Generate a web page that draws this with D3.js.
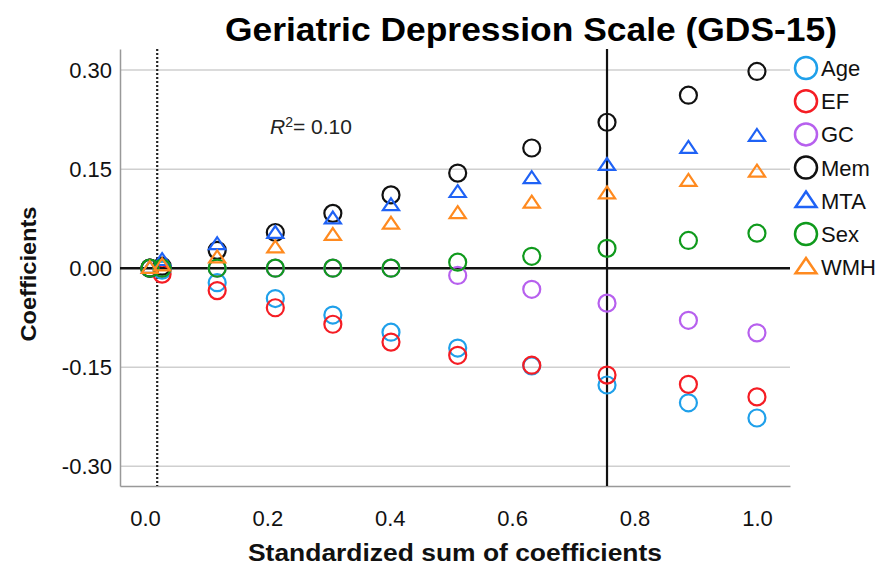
<!DOCTYPE html>
<html>
<head>
<meta charset="utf-8">
<script src="https://cdn.jsdelivr.net/npm/d3@7"></script>
<style>
    body { margin: 0; background: #fff; }
    text { font-family: "Liberation Sans", Arial, sans-serif; }
</style>
</head>
<body>
<svg id="chart"></svg>
<script>
// x position of each step (standardized sum of coefficients)
const steps = [0.008, 0.028, 0.118, 0.213, 0.307, 0.402, 0.511, 0.632, 0.755, 0.888, 1.0];

// coefficient paths per predictor
const age = [0, -0.003, -0.022, -0.046, -0.071, -0.097, -0.121, -0.148, -0.177, -0.204, -0.227];
const ef  = [0, -0.009, -0.034, -0.060, -0.085, -0.112, -0.132, -0.147, -0.162, -0.176, -0.195];
const gc  = [0, 0, 0, 0, 0, 0, -0.011, -0.032, -0.053, -0.079, -0.098];
const mem = [0, 0.003, 0.027, 0.054, 0.083, 0.111, 0.144, 0.182, 0.221, 0.262, 0.298];
const mta = [0, 0.012, 0.036, 0.053, 0.075, 0.095, 0.115, 0.136, 0.156, 0.182, 0.200];
const sex = [0, 0, 0, 0, 0, 0, 0.009, 0.018, 0.030, 0.042, 0.053];
const wmh = [0, 0.004, 0.016, 0.031, 0.050, 0.067, 0.083, 0.099, 0.113, 0.132, 0.146];

const seriesNames = ["Age", "EF", "GC", "Mem", "MTA", "Sex", "WMH"];
const seriesValues = [age, ef, gc, mem, mta, sex, wmh];
const seriesShapes = ["circle", "circle", "circle", "circle", "triangle", "circle", "triangle"];
const seriesColors = ["#1fa0ea", "#f51d24", "#b760ee", "#111111", "#1f62f5", "#0f9a1c", "#ff8a1f"];

const yTicks = [0.30, 0.15, 0.00, -0.15, -0.30];
const xTicks = [0.0, 0.2, 0.4, 0.6, 0.8, 1.0];
const selectedStep = 0.755; // chosen model (solid line)
const startStep = 0.02;     // dotted reference line
const rSquared = "0.10";

// canvas
const canvWidth = 888;
const canvHeight = 569;
const margin = { top: 49, right: 98, bottom: 83, left: 120 };
const width = canvWidth - margin.left - margin.right;
const height = canvHeight - margin.top - margin.bottom;

const svg = d3.select("#chart")
    .attr("width", canvWidth)
    .attr("height", canvHeight);

const g = svg.append("g")
    .attr("transform", "translate(" + margin.left + "," + margin.top + ")");

// scales
const x = d3.scaleLinear()
    .domain([-0.0408, 1.054])
    .range([0, width]);

const y = d3.scaleLinear()
    .domain([-0.330, 0.332])
    .range([height, 0]);

// plain hyphen minus like the original
const fmtY = d => d3.format(".2f")(d).replace("\u2212", "-");

// grid lines
g.append("g")
    .selectAll("line")
    .data(yTicks.filter(d => d !== 0))
    .enter().append("line")
    .attr("x1", 0)
    .attr("x2", width)
    .attr("y1", d => y(d))
    .attr("y2", d => y(d))
    .attr("stroke", "#cfcfcf")
    .attr("stroke-width", 1.5);

// y axis
const yAxis = g.append("g")
    .call(d3.axisLeft(y).tickValues(yTicks).tickFormat(fmtY).tickSize(0).tickPadding(8));
yAxis.select(".domain").attr("stroke", "#999").attr("stroke-width", 1.5);
yAxis.selectAll("text")
    .attr("font-size", 22)
    .attr("fill", "#111")
    .attr("font-family", "Liberation Sans, Arial, sans-serif");

// x axis
const xAxis = g.append("g")
    .attr("transform", "translate(0," + height + ")")
    .call(d3.axisBottom(x).tickValues(xTicks).tickFormat(d3.format(".1f")).tickSize(0).tickPadding(24));
xAxis.select(".domain").attr("stroke", "#999").attr("stroke-width", 1.5);
xAxis.selectAll("text")
    .attr("font-size", 22)
    .attr("fill", "#111")
    .attr("font-family", "Liberation Sans, Arial, sans-serif");

// zero line
g.append("line")
    .attr("x1", 0)
    .attr("x2", width)
    .attr("y1", y(0))
    .attr("y2", y(0))
    .attr("stroke", "#111")
    .attr("stroke-width", 2.5);

// dotted start line
g.append("line")
    .attr("x1", x(startStep))
    .attr("x2", x(startStep))
    .attr("y1", 0)
    .attr("y2", height)
    .attr("stroke", "#222")
    .attr("stroke-width", 2.2)
    .attr("stroke-dasharray", "2,2");

// selected model line
g.append("line")
    .attr("x1", x(selectedStep))
    .attr("x2", x(selectedStep))
    .attr("y1", 0)
    .attr("y2", height)
    .attr("stroke", "#111")
    .attr("stroke-width", 2.2);

// marker drawing helper
function drawMarker(sel, shape, size, color, sw) {
    if (shape === "circle") {
        sel.append("circle")
            .attr("r", size)
            .attr("fill", "none")
            .attr("stroke", color)
            .attr("stroke-width", sw);
    } else {
        const h = size * 1.4;
        const w = size * 0.95;
        sel.append("path")
            .attr("d", "M0," + (-h * 0.6) + "L" + w + "," + (h * 0.4) + "L" + (-w) + "," + (h * 0.4) + "Z")
            .attr("fill", "none")
            .attr("stroke", color)
            .attr("stroke-width", sw)
            .attr("stroke-linejoin", "miter");
    }
}

// points
seriesNames.forEach(function (name, i) {
    const pts = g.append("g").attr("class", "series-" + name);
    seriesValues[i].forEach(function (v, j) {
        const m = pts.append("g")
            .attr("transform", "translate(" + x(steps[j]) + "," + y(v) + ")");
        drawMarker(m, seriesShapes[i], 8.5, seriesColors[i], 2.2);
    });
});

// R squared label
const r2 = svg.append("text")
    .attr("x", 270)
    .attr("y", 134)
    .attr("font-size", 21)
    .attr("fill", "#222");
r2.append("tspan").attr("font-style", "italic").text("R");
r2.append("tspan").attr("font-size", 14).attr("dy", -7).text("2");
r2.append("tspan").attr("dy", 7).text("= " + rSquared);

// legend
const legendTop = 68;
const legendStep = 33.2;
seriesNames.forEach(function (name, i) {
    const lg = svg.append("g")
        .attr("transform", "translate(806," + (legendTop + i * legendStep) + ")");
    drawMarker(lg, seriesShapes[i], 11, seriesColors[i], 2.5);
    lg.append("text")
        .attr("x", 15)
        .attr("y", 8)
        .attr("font-size", 22)
        .attr("fill", "#111")
        .text(name);
});

// title
svg.append("text")
    .attr("x", 531)
    .attr("y", 41)
    .attr("text-anchor", "middle")
    .attr("font-size", 34)
    .attr("font-weight", "bold")
    .attr("fill", "#000")
    .attr("textLength", 612)
    .attr("lengthAdjust", "spacingAndGlyphs")
    .text("Geriatric Depression Scale (GDS-15)");

// axis titles
svg.append("text")
    .attr("x", 455)
    .attr("y", 561)
    .attr("text-anchor", "middle")
    .attr("font-size", 23)
    .attr("font-weight", "bold")
    .attr("fill", "#111")
    .attr("textLength", 414)
    .attr("lengthAdjust", "spacingAndGlyphs")
    .text("Standardized sum of coefficients");

svg.append("text")
    .attr("transform", "translate(36,274) rotate(-90)")
    .attr("text-anchor", "middle")
    .attr("font-size", 22)
    .attr("font-weight", "bold")
    .attr("fill", "#111")
    .attr("textLength", 135)
    .attr("lengthAdjust", "spacingAndGlyphs")
    .text("Coefficients");
</script>
</body>
</html>
